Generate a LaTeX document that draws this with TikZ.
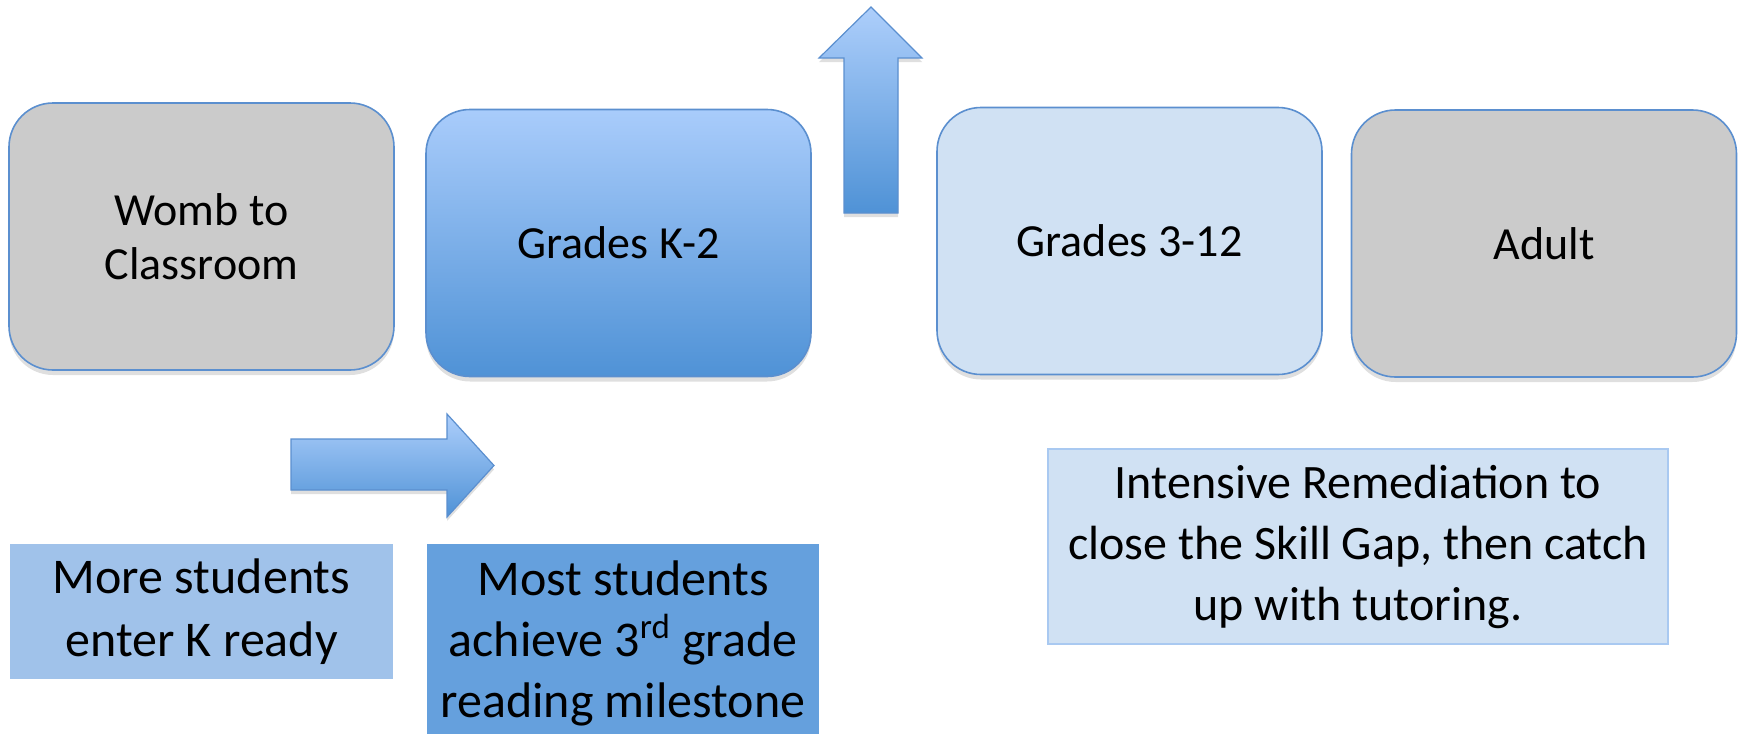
\documentclass[tikz,border=0pt]{standalone}
\usepackage{fontspec}
\setmainfont{Carlito}
\usepackage{tikz}
\usetikzlibrary{shadows}
\newcommand{\myunit}{0.5pt}
\definecolor{boxline}{HTML}{5B8FCF}
\definecolor{boxgray}{HTML}{CBCBCB}
\definecolor{boxpale}{HTML}{D0E1F3}
\definecolor{gradtop}{HTML}{A9CCFB}
\definecolor{gradbot}{HTML}{4F92D6}
\definecolor{notelight}{HTML}{A0C2EA}
\definecolor{notemid}{HTML}{65A0DD}
\definecolor{noteline}{HTML}{A9C9F1}
\tikzset{
    box style/.style={draw=boxline,line width=0.8pt,rounded corners=22pt,
        minimum width=192.5pt,minimum height=133.5pt,align=center,
        font=\fontsize{23}{27}\selectfont,
        drop shadow={shadow xshift=0pt,shadow yshift=-2.5pt,opacity=0.25}},
    box style gray/.style={box style,fill=boxgray},
    box style grad/.style={box style,top color=gradtop,bottom color=gradbot},
    box style pale/.style={box style,fill=boxpale},
    note style/.style={rectangle,inner sep=0pt,align=center,
        font=\fontsize{25}{31.5}\selectfont},
    arrow style/.style={draw=boxline,line width=0.6pt,line join=miter,
        top color=gradtop!95!white,bottom color=gradbot,
        drop shadow={shadow xshift=0pt,shadow yshift=-2pt,opacity=0.25}},
}

\begin{document}
\begin{tikzpicture}[x=\myunit,y=-\myunit]
  \clip (0,0) rectangle (1742,734);

  % stages
  \node[box style gray] (womb) at (201.5,236.5) {Womb to\\Classroom};
  \node[box style grad] (early) at (618.5,243) {Grades K-2};
  \node[box style pale] (later) at (1129.5,241) {Grades 3-12};
  \node[box style gray] (adult) at (1544,243.5) {Adult};

  % block arrows
  \path[arrow style] (844,213) -- (844,58) -- (819,58) -- (871,7) -- (922,58)
      -- (898,58) -- (898,213) -- cycle;
  \path[arrow style] (291,439) -- (447,439) -- (447,414) -- (494,465.5)
      -- (447,517) -- (447,490) -- (291,490) -- cycle;

  % notes
  \node[note style,fill=notelight,minimum width=191.5pt,minimum height=67.5pt]
      (ready) at (201.5,611.5) {More students\\enter K ready};
  \node[note style,fill=notemid,minimum width=196pt,minimum height=106pt,
      font=\fontsize{25}{30.5}\selectfont]
      (milestone) at (623,650) {Most students\\achieve 3\textsuperscript{rd} grade\\reading milestone\vspace*{7pt}};
  \node[note style,fill=boxpale,draw=noteline,line width=0.8pt,
      font=\fontsize{24}{30.5}\selectfont,minimum width=310pt,minimum height=97.5pt]
      (remedy) at (1358,546.5) {Intensive Remediation to\\close the Skill Gap, then catch\\up with tutoring.};
\end{tikzpicture}
\end{document}
